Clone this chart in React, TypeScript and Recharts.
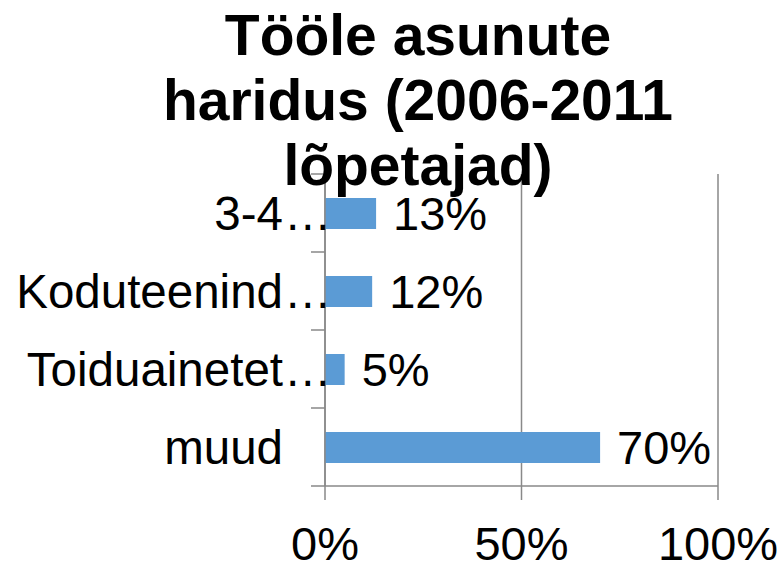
import { BarChart, Bar, XAxis, YAxis, CartesianGrid, LabelList } from 'recharts';

const categories = ['3-4…', 'Koduteenind…', 'Toiduainetet…', 'muud'];
const shares = [13, 12, 5, 70];
const xTicks = [0, 50, 100];
const titleLines = ['Tööle asunute', 'haridus (2006-2011', 'lõpetajad)'];

const data = categories.map((name, i) => ({ name, value: shares[i] }));

const FONT = '"Liberation Sans", Arial, sans-serif';
const GRID = '#898989';

// category label: text right-aligned, trailing ellipsis hangs past the end
function CategoryTick(props: any) {
  const { x, y, payload, index } = props;
  const label: string = payload.value;
  const cut = label.endsWith('…');
  const main = cut ? label.slice(0, -1) : label;
  const half = 39;
  const axisX = x + 14;
  return (
    <g>
      <text x={x - 28} y={y} dy="0.36em" textAnchor="end" fontSize={47.5} fontFamily={FONT} fill="#000">{main}</text>
      {cut && (
        <text x={x - 27} y={y} dy="0.36em" textAnchor="start" fontSize={47.5} fontFamily={FONT} fill="#000">…</text>
      )}
      {index === 0 && <line x1={axisX - 14} x2={axisX} y1={y - half} y2={y - half} stroke={GRID} strokeWidth={1.5} />}
      <line x1={axisX - 14} x2={axisX} y1={y + half} y2={y + half} stroke={GRID} strokeWidth={1.5} />
    </g>
  );
}

function PercentTick(props: any) {
  const { x, y, payload } = props;
  return (
    <text x={x} y={y} dy={58} textAnchor="middle" fontSize={47} fontFamily={FONT} fill="#000">
      {payload.value + '%'}
    </text>
  );
}

export default function App() {
  return (
    <div style={{ position: 'absolute', left: 0, top: 0, width: 781, height: 562, background: '#fff' }}>
      <BarChart
        width={781}
        height={562}
        data={data}
        layout="vertical"
        margin={{ top: 174, right: 63, bottom: 0, left: 0 }}
        barCategoryGap="30%"
      >
        <CartesianGrid horizontal={false} stroke={GRID} strokeWidth={1.5} />
        <XAxis
          type="number"
          domain={[0, 100]}
          ticks={xTicks}
          height={76}
          tickSize={14}
          stroke={GRID}
          axisLine={{ stroke: GRID, strokeWidth: 1.5 }}
          tickLine={{ stroke: GRID, strokeWidth: 1.5 }}
          tick={<PercentTick />}
          interval={0}
        />
        <YAxis
          type="category"
          dataKey="name"
          width={325}
          tickLine={false}
          tickSize={14}
          tickMargin={0}
          axisLine={{ stroke: GRID, strokeWidth: 1.5 }}
          tick={<CategoryTick />}
          interval={0}
        />
        <Bar dataKey="value" fill="#5B9BD5" barSize={31} isAnimationActive={false}>
          <LabelList
            dataKey="value"
            position="right"
            offset={17}
            formatter={(v: any) => v + '%'}
            fontSize={47}
            fontFamily={FONT}
            fill="#000"
          />
        </Bar>
      </BarChart>
      <svg width={781} height={210} style={{ position: 'absolute', left: 0, top: 0, pointerEvents: 'none' }}>
        {titleLines.map((t, i) => (
          <text key={t} x={418} y={55 + i * 65} textAnchor="middle" fontSize={57} fontWeight="bold" fontFamily={FONT} fill="#000">
            {t}
          </text>
        ))}
      </svg>
    </div>
  );
}
